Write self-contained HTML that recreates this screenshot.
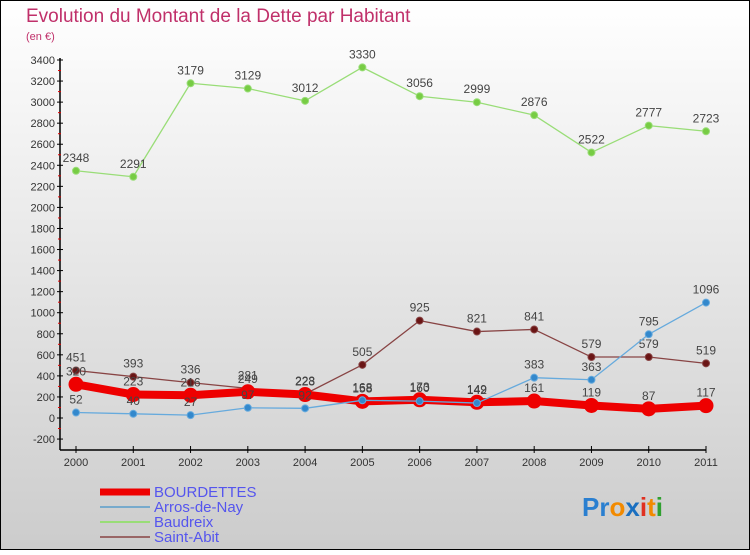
<!DOCTYPE html>
<html><head><meta charset="utf-8"><style>
body{margin:0}
#c{width:750px;height:550px;position:relative;font-family:"Liberation Sans",sans-serif;}
</style></head><body>
<div id="c">
<svg id="s" width="750" height="550" xmlns="http://www.w3.org/2000/svg">
<defs><linearGradient id="bg" x1="0" y1="0" x2="0" y2="1"><stop offset="0" stop-color="#ffffff"/><stop offset="1" stop-color="#cccccc"/></linearGradient></defs>
<rect x="0.5" y="0.5" width="749" height="549" fill="url(#bg)" stroke="#000"/>
<text x="26" y="22" font-size="19" fill="#c0306a">Evolution du Montant de la Dette par Habitant</text>
<text x="26" y="40" font-size="11" fill="#c0306a">(en €)</text>
<g id="axes"></g><g id="series"></g><g id="legend"></g>
<text x="582" y="516" font-size="26" font-weight="bold"><tspan fill="#2a7fd0">Pr</tspan><tspan fill="#f28a00">o</tspan><tspan fill="#1a6fc0">x</tspan><tspan fill="#e03020">i</tspan><tspan fill="#f28a00">t</tspan><tspan fill="#30a030">i</tspan></text>
</svg></div>
<script>
const years=[2000,2001,2002,2003,2004,2005,2006,2007,2008,2009,2010,2011];
const bourdettes=[320,223,216,249,223,158,173,149,161,119,87,117];
const arros=[52,40,27,97,92,168,160,142,383,363,795,1096];
const baudreix=[2348,2291,3179,3129,3012,3330,3056,2999,2876,2522,2777,2723];
const saintAbit=[451,393,336,281,228,505,925,821,841,579,579,519];
const yTicks=[-200,0,200,400,600,800,1000,1200,1400,1600,1800,2000,2200,2400,2600,2800,3000,3200,3400];
const NS="http://www.w3.org/2000/svg";
const x=i=>76+i*(706-76)/11;
const y=v=>418-v*(418-60)/3400;
function mk(t,a,p){const e=document.createElementNS(NS,t);for(const k in a)e.setAttribute(k,a[k]);(p||document.getElementById('axes')).appendChild(e);return e;}
const ax=document.getElementById('axes');
let e=mk('line',{x1:60,y1:y(3400)-2,x2:60,y2:450,stroke:'#000','stroke-width':1.5});


e=mk('line',{x1:60,y1:450,x2:706,y2:450,stroke:'#000','stroke-width':1.5});


yTicks.forEach((v,i)=>{
 mk('line',{x1:57,y1:y(v),x2:63,y2:y(v),stroke:'#000'});
 if(i<yTicks.length-1)mk('line',{x1:58,y1:y(v+100),x2:61,y2:y(v+100),stroke:'#e00000'});
 const t=mk('text',{x:55,y:y(v)+4,'font-size':11,'text-anchor':'end',fill:'#333'});
 t.textContent=v;
 
 
});
years.forEach((yr,i)=>{
 mk('line',{x1:x(i),y1:446,x2:x(i),y2:453,stroke:'#000'});
 const t=mk('text',{x:x(i),y:466,'font-size':11,'text-anchor':'middle',fill:'#333'});
 t.textContent=yr;
 
 
});
const sg=document.getElementById('series');
function series(name,vals,color,dot,w,r){
 const g=mk('g',{},sg);
 
 
 mk('polyline',{points:vals.map((v,i)=>x(i)+','+y(v)).join(' '),fill:'none',stroke:color,'stroke-width':w,'stroke-linejoin':'round'},g);
 vals.forEach((v,i)=>{
  const c=mk('circle',{cx:x(i),cy:y(v),r:r,fill:dot,stroke:color,'stroke-width':1},g);
  
  
  const t=mk('text',{x:x(i),y:y(v)-9,'font-size':12,'text-anchor':'middle',fill:'#444'},g);
  t.textContent=v;
  
  
 });
}
series('baudreix',baudreix,'#99dd77','#77cc44',1.3,3.5);
series('saint-abit',saintAbit,'#884444','#6a1515',1.3,3.5);
series('bourdettes',bourdettes,'#ee0000','#ee0000',8,7);
series('arros-de-nay',arros,'#66aadd','#3388cc',1.3,3.5);
const lg=document.getElementById('legend');
[['BOURDETTES','#ee0000',7],['Arros-de-Nay','#77aacc',2],['Baudreix','#99dd77',2],['Saint-Abit','#996666',2]].forEach((d,i)=>{
 const yy=492+i*15;
 const l=mk('line',{x1:100,y1:yy,x2:150,y2:yy,stroke:d[1],'stroke-width':d[2]},lg);
 
 
 const t=mk('text',{x:154,y:yy+5,'font-size':15,fill:'#5555ee'},lg);
 t.textContent=d[0];
 
 
});
</script>
</body></html>
